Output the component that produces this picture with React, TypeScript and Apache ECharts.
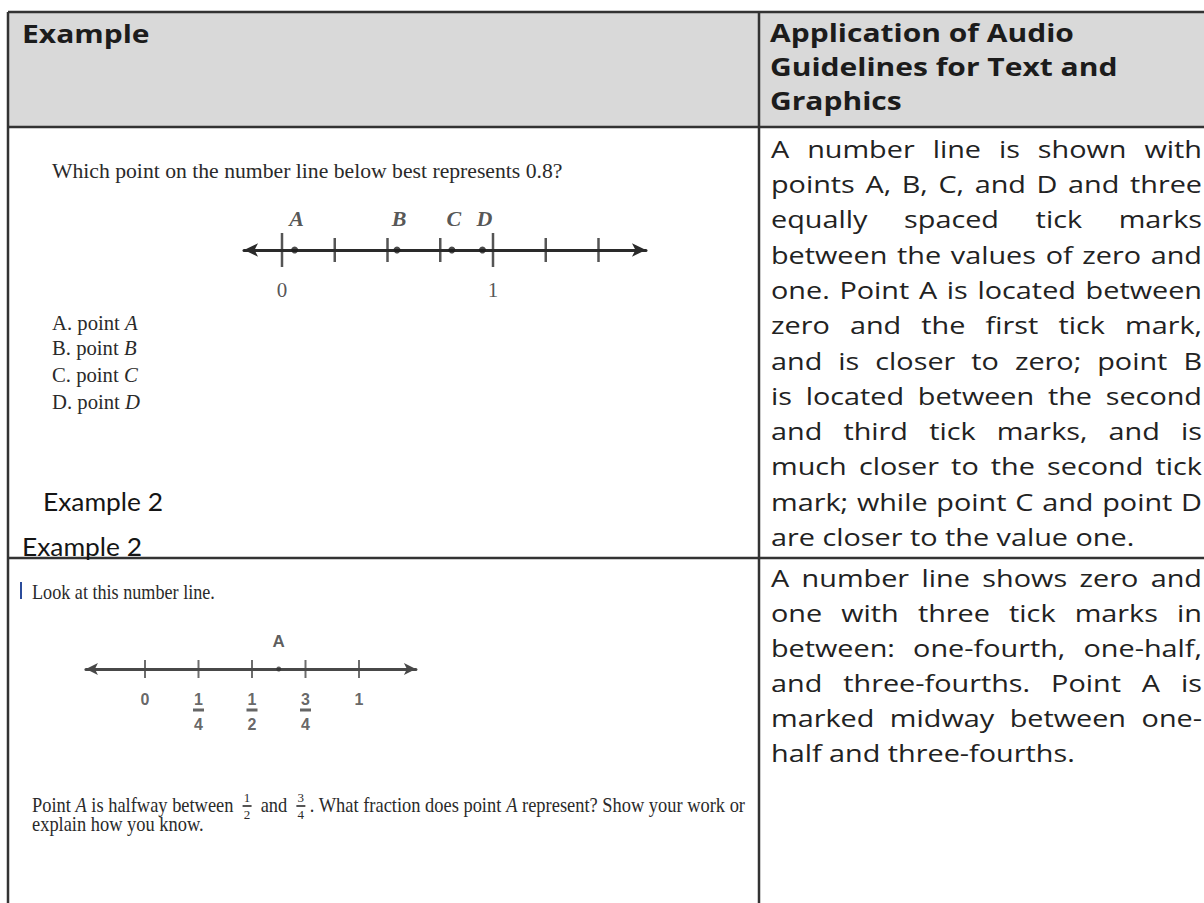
import React, { useEffect, useRef } from "react";
import * as echarts from "echarts";

// ---------------- data ----------------
const headerLeft = "Example";
const headerRightLines = ["Application of Audio", "Guidelines for Text and", "Graphics"];

const q1Question = "Which point on the number line below best represents 0.8?";
const q1OptionPrefixes = ["A. point ", "B. point ", "C. point ", "D. point "];
const q1OptionLetters = ["A", "B", "C", "D"];

const nl1TickValues = [0, 0.25, 0.5, 0.75, 1, 1.25, 1.5];
const nl1MajorTickValues = [0, 1];
const nl1PointNames = ["A", "B", "C", "D"];
const nl1PointValues = [0.06, 0.545, 0.805, 0.95];
const nl1LabelValues = [0, 1];
const nl1LabelTexts = ["0", "1"];
const nl1AxisRange = [-0.18, 1.725];

const example2Captions = ["Example 2", "Example 2"];

const q2Intro = "Look at this number line.";
const nl2TickValues = [0, 0.25, 0.5, 0.75, 1];
const nl2TickNumerators = ["0", "1", "1", "3", "1"];
const nl2TickDenominators = ["", "4", "2", "4", ""];
const nl2PointNames = ["A"];
const nl2PointValues = [0.625];
const nl2AxisRange = [-0.276, 1.266];

const q2PromptSegments: any[] = [
  { t: "Point " },
  { t: "A", it: true },
  { t: " is halfway between " },
  { frac: ["1", "2"] },
  { t: " and " },
  { frac: ["3", "4"] },
  { t: ". What fraction does point " },
  { t: "A", it: true },
  { t: " represent? Show your work or" },
];
const q2PromptLine2 = "explain how you know.";

const desc1Lines = [
  "A number line is shown with",
  "points A, B, C, and D and three",
  "equally spaced tick marks",
  "between the values of zero and",
  "one. Point A is located between",
  "zero and the first tick mark,",
  "and is closer to zero; point B",
  "is located between the second",
  "and third tick marks, and is",
  "much closer to the second tick",
  "mark; while point C and point D",
  "are closer to the value one.",
];
const desc2Lines = [
  "A number line shows zero and",
  "one with three tick marks in",
  "between: one-fourth, one-half,",
  "and three-fourths. Point A is",
  "marked midway between one-",
  "half and three-fourths.",
];

// ---------------- layout ----------------
const W = 1204;
const H = 903;
const L = 8;
const T = 12;
const COLX = 759;
const HEAD_B = 127;
const ROW_B = 558;
const BODY_X0 = 771;
const BODY_X1 = 1202;
const SX = 1.2;
const BORDER = "#333";

const NL1 = { zeroX: 282, unit: 211, lineY: 250 };
const NL2 = { zeroX: 145, unit: 214, lineY: 669 };

const SERIF = "Liberation Serif";
const SANS = "Open Sans";

let _ctx: CanvasRenderingContext2D | null = null;
function textW(text: string, size: number, family: string, weight = "normal", style = "normal") {
  if (!_ctx) _ctx = document.createElement("canvas").getContext("2d");
  _ctx!.font = `${style} ${weight} ${size}px "${family}"`;
  return _ctx!.measureText(text).width;
}

function txt(text: string, x: number, y: number, o: any) {
  return {
    type: "text",
    x,
    y,
    scaleX: o.sx ?? 1,
    silent: true,
    z: 10,
    style: {
      text,
      fontSize: o.size,
      fontFamily: o.family,
      fontWeight: o.weight || "normal",
      fontStyle: o.style || "normal",
      fill: o.fill || "#222",
      align: o.align || "left",
      verticalAlign: "middle",
    },
  };
}

function paragraph(lines: string[], y0: number, step: number, out: any[]) {
  const size = 24;
  lines.forEach((line, i) => {
    const y = y0 + i * step;
    const opts = { size, family: SANS, sx: SX, fill: "#222" };
    if (i === lines.length - 1) {
      out.push(txt(line, BODY_X0, y, opts));
      return;
    }
    const words = line.split(" ");
    const ws = words.map((w) => textW(w, size, SANS) * SX);
    const total = ws.reduce((a, b) => a + b, 0);
    const gap = (BODY_X1 - BODY_X0 - total) / (words.length - 1);
    let x = BODY_X0;
    words.forEach((w, k) => {
      out.push(txt(w, x, y, opts));
      x += ws[k] + gap;
    });
  });
}

function buildOption() {
  const g: any[] = [];
  // header background
  g.push({ type: "rect", silent: true, z: 0, shape: { x: L, y: T, width: W - L, height: HEAD_B - T }, style: { fill: "#d9d9d9" } });

  // header texts
  g.push(txt(headerLeft, 22, 33, { size: 25, family: SANS, weight: "bold", sx: SX, fill: "#1c1c1c" }));
  headerRightLines.forEach((s, i) =>
    g.push(txt(s, 770, 32 + i * 34, { size: 25, family: SANS, weight: "bold", sx: SX, fill: "#1c1c1c" }))
  );

  // right column paragraphs
  paragraph(desc1Lines, 148.7, 35.3, g);
  paragraph(desc2Lines, 577.7, 35, g);

  // Row 1 image texts
  const grey = "#2a2a2a";
  const sxQ = 511 / textW(q1Question, 22, SERIF);
  g.push(txt(q1Question, 52, 170.6, { size: 22, family: SERIF, sx: sxQ, fill: grey }));
  const optY = [323, 348, 375, 402];
  q1OptionPrefixes.forEach((p, i) => {
    const w = textW(p, 21, SERIF) * sxQ;
    g.push(txt(p, 52, optY[i], { size: 21, family: SERIF, sx: sxQ, fill: grey }));
    g.push(txt(q1OptionLetters[i], 52 + w, optY[i], { size: 21, family: SERIF, style: "italic", sx: sxQ, fill: grey }));
  });

  // Example 2 captions
  const capSx = 120 / textW(example2Captions[0], 25, "Lato");
  g.push(txt(example2Captions[0], 43, 501.3, { size: 25, family: "Lato", sx: capSx, fill: "#151515" }));
  g.push(txt(example2Captions[1], 22, 546.3, { size: 25, family: "Lato", sx: capSx, fill: "#151515" }));

  // Row 2 image texts
  g.push({ type: "rect", silent: true, shape: { x: 20, y: 582, width: 2, height: 17 }, style: { fill: "#2b4c9b" } });
  const sxI = 183 / textW(q2Intro, 22, SERIF);
  g.push(txt(q2Intro, 32, 591, { size: 22, family: SERIF, sx: sxI, fill: grey }));

  const psize = 20;
  const slot = 18;
  const PX0 = 32;
  const PX1 = 745;
  let natural = 0;
  let slots = 0;
  q2PromptSegments.forEach((seg) => {
    if (seg.frac) slots += slot;
    else natural += textW(seg.t, psize, SERIF, "normal", seg.it ? "italic" : "normal");
  });
  const sxP = (PX1 - PX0 - slots) / natural;
  let x = PX0;
  const py = 805;
  q2PromptSegments.forEach((seg) => {
    if (seg.frac) {
      const cx = x + slot / 2;
      g.push(txt(seg.frac[0], cx, py - 8, { size: 13, family: SERIF, fill: grey, align: "center" }));
      g.push({ type: "line", silent: true, shape: { x1: cx - 4.5, y1: py + 1, x2: cx + 4.5, y2: py + 1 }, style: { stroke: grey, lineWidth: 1.6 } });
      g.push(txt(seg.frac[1], cx, py + 9, { size: 13, family: SERIF, fill: grey, align: "center" }));
      x += slot;
    } else {
      const st = seg.it ? "italic" : "normal";
      g.push(txt(seg.t, x, py, { size: psize, family: SERIF, style: st, sx: sxP, fill: grey }));
      x += textW(seg.t, psize, SERIF, "normal", st) * sxP;
    }
  });
  g.push(txt(q2PromptLine2, PX0, 824, { size: psize, family: SERIF, sx: sxP, fill: grey }));

  // borders
  const ln = (x1: number, y1: number, x2: number, y2: number, w = 2.5) => ({
    type: "line",
    silent: true,
    z: 5,
    shape: { x1, y1, x2, y2 },
    style: { stroke: BORDER, lineWidth: w },
  });
  g.push(ln(L, T, W, T));
  g.push(ln(L, T, L, H));
  g.push(ln(COLX, T, COLX, H));
  g.push(ln(L, HEAD_B, W, HEAD_B));
  g.push(ln(L, ROW_B, W, ROW_B));

  // number-line grids
  const gridFor = (nl: any, range: number[]) => ({
    left: nl.zeroX + range[0] * nl.unit,
    width: (range[1] - range[0]) * nl.unit,
    top: nl.lineY - 40,
    height: 40,
    outerBoundsMode: "none",
  });
  const xAxisFor = (idx: number, range: number[], color: string, arrow: number[]) => ({
    gridIndex: idx,
    type: "value",
    min: range[0],
    max: range[1],
    position: "bottom",
    axisLine: { show: true, onZero: false, symbol: ["arrow", "arrow"], symbolSize: arrow, lineStyle: { color, width: 3 } },
    axisTick: { show: false },
    axisLabel: { show: false },
    splitLine: { show: false },
  });
  const yAxisFor = (idx: number) => ({ gridIndex: idx, type: "value", min: 0, max: 1, show: false });

  const base = (idx: number) => ({ type: "scatter", xAxisIndex: idx, yAxisIndex: idx, silent: true, clip: false, animation: false });

  const c1 = "#2a2a2a";
  const c2 = "#484848";
  const series: any[] = [
    {
      ...base(0),
      symbol: "rect",
      symbolSize: [2.5, 24],
      itemStyle: { color: c1 },
      data: nl1TickValues.filter((v) => !nl1MajorTickValues.includes(v)).map((v) => [v, 0]),
    },
    { ...base(0), symbol: "rect", symbolSize: [2.5, 34], itemStyle: { color: c1 }, data: nl1MajorTickValues.map((v) => [v, 0]) },
    {
      ...base(0),
      symbol: "circle",
      symbolSize: 7,
      itemStyle: { color: "#1e1e1e" },
      data: nl1PointValues.map((v, i) => ({ value: [v, 0], name: nl1PointNames[i] })),
      label: { show: true, formatter: "{b}", position: "inside", offset: [2, -32], fontFamily: SERIF, fontStyle: "italic", fontWeight: "bold", fontSize: 22, color: "#2a2a2a" },
    },
    {
      ...base(0),
      symbol: "circle",
      symbolSize: 1,
      itemStyle: { color: "rgba(0,0,0,0)" },
      data: nl1LabelValues.map((v, i) => ({ value: [v, 0], name: nl1LabelTexts[i] })),
      label: { show: true, formatter: "{b}", position: "inside", offset: [0, 40], fontFamily: SERIF, fontSize: 21, color: "#2a2a2a" },
    },
    { ...base(1), symbol: "rect", symbolSize: [2, 18], itemStyle: { color: c2 }, data: nl2TickValues.map((v) => [v, 0]) },
    {
      ...base(1),
      symbol: "circle",
      symbolSize: 5,
      itemStyle: { color: "#333" },
      data: nl2PointValues.map((v, i) => ({ value: [v, 0], name: nl2PointNames[i] })),
      label: { show: true, formatter: "{b}", position: "inside", offset: [0, -28], fontFamily: "Liberation Sans", fontWeight: "bold", fontSize: 17, color: "#333" },
    },
    {
      ...base(1),
      symbol: "circle",
      symbolSize: 1,
      itemStyle: { color: "rgba(0,0,0,0)" },
      data: nl2TickValues.map((v, i) => ({ value: [v, 0], name: nl2TickNumerators[i] })),
      label: { show: true, formatter: "{b}", position: "inside", offset: [0, 30], fontFamily: "Liberation Sans", fontWeight: "bold", fontSize: 16, color: "#404040" },
    },
    {
      ...base(1),
      symbol: "rect",
      symbolSize: [11, 3],
      symbolOffset: [0, 41],
      itemStyle: { color: "#404040" },
      data: nl2TickValues.filter((v, i) => nl2TickDenominators[i] !== "").map((v) => [v, 0]),
    },
    {
      ...base(1),
      symbol: "circle",
      symbolSize: 1,
      itemStyle: { color: "rgba(0,0,0,0)" },
      data: nl2TickValues
        .map((v, i) => ({ value: [v, 0], name: nl2TickDenominators[i] }))
        .filter((d) => d.name !== ""),
      label: { show: true, formatter: "{b}", position: "inside", offset: [0, 55], fontFamily: "Liberation Sans", fontWeight: "bold", fontSize: 16, color: "#404040" },
    },
  ];

  return {
    animation: false,
    backgroundColor: "#ffffff",
    grid: [gridFor(NL1, nl1AxisRange), gridFor(NL2, nl2AxisRange)],
    xAxis: [xAxisFor(0, nl1AxisRange, c1, [10, 14]), xAxisFor(1, nl2AxisRange, c2, [9, 12])],
    yAxis: [yAxisFor(0), yAxisFor(1)],
    series,
    graphic: g,
  };
}

export default function App() {
  const ref = useRef<HTMLDivElement>(null);
  useEffect(() => {
    if (!ref.current) return;
    const chart = echarts.init(ref.current, null, { renderer: "svg" });
    chart.setOption(buildOption() as any);
    return () => chart.dispose();
  }, []);
  return (
    <div
      ref={ref}
      style={{ position: "absolute", left: 0, top: 0, width: W, height: H, background: "#fff" }}
    />
  );
}
